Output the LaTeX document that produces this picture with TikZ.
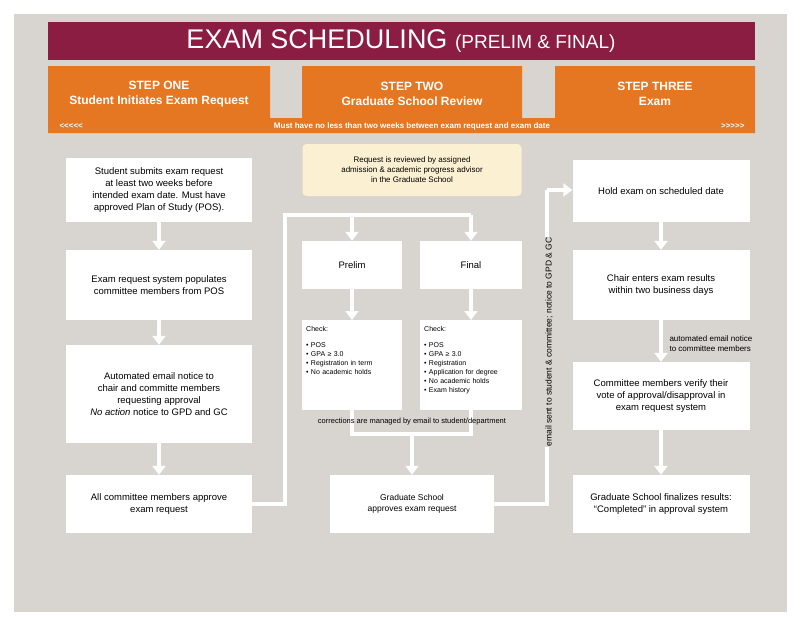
\documentclass[tikz,border=0pt]{standalone}
\usepackage{fontspec}
\setmainfont{Liberation Sans}
\usetikzlibrary{arrows.meta}
\definecolor{bg}{HTML}{D8D4CF}
\definecolor{maroon}{HTML}{8A1D41}
\definecolor{orng}{HTML}{E67722}
\definecolor{cream}{HTML}{FCF0D2}
\begin{document}
\begin{tikzpicture}[x=1pt,y=-1pt,
  box/.style={fill=white,draw=none,align=center,font=\fontsize{9.5}{12}\selectfont,inner sep=0pt},
  chk/.style={draw=none,align=left,font=\fontsize{7}{9}\selectfont,inner sep=4pt,anchor=north west},
  flow/.style={draw=white,line width=4pt,-{Triangle[length=9pt,width=13pt]}},
  flown/.style={draw=white,line width=4pt},
  hd/.style={text=white,font=\bfseries\fontsize{12}{15}\selectfont,align=center}]
\useasboundingbox (0,0) rectangle (800,624);
\fill[bg] (14,14) rectangle (787,612);
\fill[maroon] (48,22) rectangle (755,60);
\node[text=white] (title) at (401,41) {\fontsize{27}{30}\selectfont EXAM SCHEDULING \fontsize{19}{22}\selectfont(PRELIM \& FINAL)};
\fill[orng] (48,66) rectangle (270,120) (302,66) rectangle (522,120) (555,66) rectangle (755,120) (48,118) rectangle (755,133);
\node[hd] (s1) at (159,94) {STEP ONE\\Student Initiates Exam Request};
\node[hd] (s2) at (412,94) {STEP TWO\\Graduate School Review};
\node[hd] (s3) at (655,94) {STEP THREE\\Exam};
\node[text=white,font=\bfseries\fontsize{8}{9}\selectfont] (strip) at (412,126) {Must have no less than two weeks between exam request and exam date};
\node[text=white,font=\bfseries\fontsize{8}{9}\selectfont,anchor=west] (lt) at (56,126) {<{}<{}<{}<{}<};
\node[text=white,font=\bfseries\fontsize{8}{9}\selectfont,anchor=east] (gt) at (748,126) {>{}>{}>{}>{}>};
% left column
\node[box,minimum width=186pt,minimum height=64pt] (a1) at (159,190) {Student submits exam request\\at least two weeks before\\intended exam date. Must have\\approved Plan of Study (POS).};
\node[box,minimum width=186pt,minimum height=70pt] (a2) at (159,285) {Exam request system populates\\committee members from POS};
\node[box,minimum width=186pt,minimum height=98pt] (a3) at (159,394) {Automated email notice to\\chair and committe members\\requesting approval\\\textit{No action} notice to GPD and GC};
\node[box,minimum width=186pt,minimum height=58pt] (a4) at (159,504) {All committee members approve\\exam request};
\draw[flow] (a1) -- (a2);
\draw[flow] (a2) -- (a3);
\draw[flow] (a3) -- (a4);
% middle
\node[box,fill=cream,rounded corners=4pt,minimum width=219pt,minimum height=52pt,font=\fontsize{8}{10}\selectfont] (rev) at (412,170) {Request is reviewed by assigned\\admission \& academic progress advisor\\in the Graduate School};
\node[box,minimum width=100pt,minimum height=48pt] (pre) at (352,265) {Prelim};
\node[box,minimum width=102pt,minimum height=48pt] (fin) at (471,265) {Final};
\fill[white] (302,320) rectangle (402,410);
\fill[white] (420,320) rectangle (522,410);
\coordinate (cpn) at (352,320);
\coordinate (cfn) at (471,320);
\coordinate (cps) at (352,410);
\coordinate (cfs) at (471,410);
\node[chk,text width=92pt] (cp) at (302,322) {Check:\\[7pt]• POS\\• GPA ≥ 3.0\\• Registration in term\\• No academic holds};
\node[chk,text width=94pt] (cf) at (420,322) {Check:\\[7pt]• POS\\• GPA ≥ 3.0\\• Registration\\• Application for degree\\• No academic holds\\• Exam history};
\node[box,minimum width=164pt,minimum height=58pt,font=\fontsize{8.5}{10.5}\selectfont] (gs) at (412,504) {Graduate School\\approves exam request};
\coordinate (j1) at (285,504);
\coordinate (j2) at (285,215);
\coordinate (j3) at (471,215);
\coordinate (jp) at (352,215);
\draw[flown,line join=miter] (a4.east) -- (j1) -- (j2) -- (j3);
\draw[flow] (j3) -- (fin.north);
\draw[flow] (jp) -- (pre.north);
\draw[flow] (pre) -- (cpn);
\draw[flow] (fin) -- (cfn);
\coordinate (k1) at (352,434);
\coordinate (k2) at (471,434);
\coordinate (k3) at (412,434);
\draw[flown,line join=miter] (cps) -- (k1) -- (k2) -- (cfs);
\draw[flow] (k3) -- (gs.north);
\node[font=\fontsize{7.5}{9}\selectfont] (corr) at (412,422) {corrections are managed by email to student/department};
% right
\node[box,minimum width=177pt,minimum height=62pt] (b1) at (661,191) {Hold exam on scheduled date};
\node[box,minimum width=177pt,minimum height=70pt] (b2) at (661,285) {Chair enters exam results\\within two business days};
\node[box,minimum width=177pt,minimum height=68pt] (b3) at (661,396) {Committee members verify their\\vote of approval/disapproval in\\exam request system};
\node[box,minimum width=177pt,minimum height=58pt] (b4) at (661,504) {Graduate School finalizes results:\\``Completed'' in approval system};
\coordinate (m1) at (547,504);
\coordinate (m2) at (547,190);
\draw[flown,line join=miter] (gs.east) -- (m1) -- (m2);
\draw[flow] (m2) -- (b1.west |- m2);
\node[rotate=90,font=\fontsize{8.5}{10}\selectfont,fill=bg,inner sep=1pt] (em) at (549,342) {email sent to student \& committee; notice to GPD \& GC};
\draw[flow] (b1) -- (b2);
\draw[flow] (b2) -- (b3);
\draw[flow] (b3) -- (b4);
\node[font=\fontsize{8}{10}\selectfont,align=left,anchor=west] (auto) at (666,344) {automated email notice\\to committee members};
\end{tikzpicture}
\end{document}
